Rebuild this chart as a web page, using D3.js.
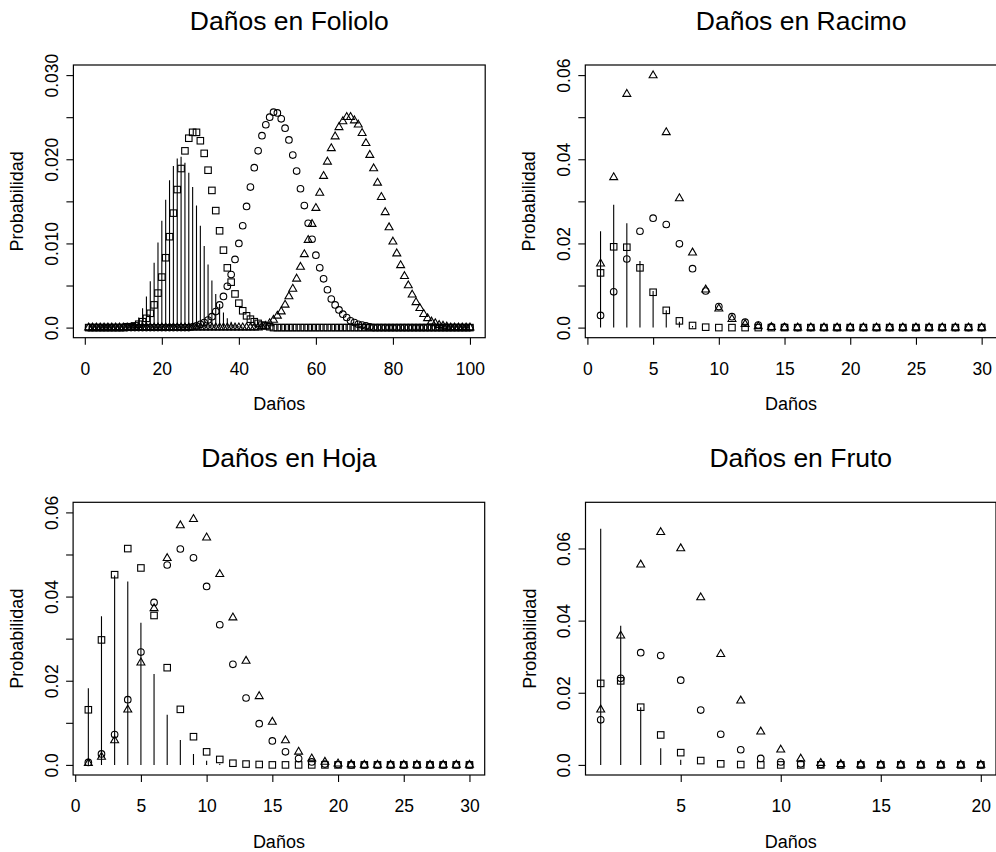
<!DOCTYPE html>
<html>
<head>
<meta charset="utf-8">
<script src="https://cdn.jsdelivr.net/npm/d3@7"></script>
<style>
  body { margin: 0; background: #fff; }
  svg { display: block; }
  text { font-family: "Liberation Sans", Arial, Helvetica, sans-serif; fill: #000; }
</style>
</head>
<body>
<svg id="chart" width="996" height="852"></svg>
<script>
// ---------- Daños en Foliolo (x = 1..100) ----------
const folioloX = [
  1,2,3,4,5,6,7,8,9,10,11,12,13,14,15,16,17,18,19,20,21,22,23,24,25,26,27,28,29,30,
  31,32,33,34,35,36,37,38,39,40,41,42,43,44,45,46,47,48,49,50,51,52,53,54,55,56,57,58,59,60,
  61,62,63,64,65,66,67,68,69,70,71,72,73,74,75,76,77,78,79,80,81,82,83,84,85,86,87,88,89,90,
  91,92,93,94,95,96,97,98,99,100];
const folioloLines = [
  0,0,0,0,0,0,0,0,0,0,
  0,0.0002,0.0005,0.0012,0.0023,0.0037,0.0055,0.0077,0.0101,0.0127,
  0.0152,0.0175,0.0192,0.0201,0.0203,0.0196,0.0184,0.0167,0.0145,0.0121,
  0.0097,0.0075,0.0056,0.0040,0.0028,0.0018,0.0011,0.0007,0.0004,0.0002,
  0.0001,0,0,0,0,0,0,0,0,0,
  0,0,0,0,0,0,0,0,0,0, 0,0,0,0,0,0,0,0,0,0, 0,0,0,0,0,0,0,0,0,0,
  0,0,0,0,0,0,0,0,0,0, 0,0,0,0,0,0,0,0,0,0];
const folioloSquares = [
  0,0,0,0,0,0,0,0,0,0,
  0.0001,0.0001,0.0002,0.0004,0.0007,0.0011,0.0017,0.0027,0.0041,0.0060,
  0.0083,0.0108,0.0136,0.0164,0.0189,0.0210,0.0225,0.0232,0.0232,0.0222,
  0.0207,0.0187,0.0163,0.0139,0.0115,0.0092,0.0071,0.0054,0.0040,0.0029,
  0.0020,0.0014,0.0010,0.0007,0.0005,0.0003,0.0002,0.0001,0,0,
  0,0,0,0,0,0,0,0,0,0, 0,0,0,0,0,0,0,0,0,0, 0,0,0,0,0,0,0,0,0,0,
  0,0,0,0,0,0,0,0,0,0, 0,0,0,0,0,0,0,0,0,0];
const folioloCircles = [
  0,0,0,0,0,0,0,0,0,0, 0,0,0,0,0,0,0,0,0,0,
  0,0,0,0,0,0,0,0.0001,0.0002,0.0004,
  0.0006,0.0009,0.0013,0.0019,0.0027,0.0037,0.0049,0.0063,0.0081,0.0100,
  0.0121,0.0144,0.0167,0.0190,0.0210,0.0228,0.0241,0.0250,0.0256,0.0255,
  0.0248,0.0237,0.0223,0.0205,0.0186,0.0165,0.0145,0.0124,0.0105,0.0086,
  0.0071,0.0058,0.0045,0.0034,0.0027,0.0021,0.0016,0.0012,0.0008,0.0006,
  0.0004,0.0003,0.0002,0.0001,0,0,0,0,0,0,
  0,0,0,0,0,0,0,0,0,0, 0,0,0,0,0,0,0,0,0,0];
const folioloTriangles = [
  0,0,0,0,0,0,0,0,0,0, 0,0,0,0,0,0,0,0,0,0, 0,0,0,0,0,0,0,0,0,0,
  0,0,0,0,0,0,0,0,0,0,
  0,0,0,0,0,0.0001,0.0002,0.0005,0.0009,0.0014,
  0.0019,0.0027,0.0037,0.0046,0.0058,0.0072,0.0087,0.0104,0.0123,0.0142,
  0.0160,0.0180,0.0197,0.0213,0.0227,0.0238,0.0245,0.0250,0.0250,0.0246,
  0.0241,0.0231,0.0219,0.0205,0.0189,0.0172,0.0155,0.0137,0.0119,0.0102,
  0.0088,0.0074,0.0061,0.0050,0.0039,0.0030,0.0023,0.0016,0.0011,0.0007,
  0.0005,0.0003,0.0002,0.0001,0,0,0,0,0,0];
const folioloXTicks = [0, 20, 40, 60, 80, 100];
const folioloYTicks = [0, 0.005, 0.010, 0.015, 0.020, 0.025, 0.030];
const folioloYTickLabels = ["0.0", "", "0.010", "", "0.020", "", "0.030"];

// ---------- Daños en Racimo (x = 1..30) ----------
const racimoX = [1,2,3,4,5,6,7,8,9,10,11,12,13,14,15,16,17,18,19,20,21,22,23,24,25,26,27,28,29,30];
const racimoLines = [0.0229,0.0292,0.0248,0.0158,0.0087,0.0041,0.0014,0.0004,0,0,
  0,0,0,0,0,0,0,0,0,0, 0,0,0,0,0,0,0,0,0,0];
const racimoSquares = [0.0130,0.0192,0.0191,0.0142,0.0084,0.0041,0.0016,0.0005,0.0001,0,
  0,0,0,0,0,0,0,0,0,0, 0,0,0,0,0,0,0,0,0,0];
const racimoCircles = [0.0029,0.0085,0.0163,0.0229,0.0260,0.0245,0.0199,0.0140,0.0087,0.0050,
  0.0026,0.0013,0.0006,0.0002,0.0001,0,0,0,0,0, 0,0,0,0,0,0,0,0,0,0];
const racimoTriangles = [0.0152,0.0357,0.0555,0.0645,0.0599,0.0464,0.0307,0.0178,0.0090,0.0045,
  0.0020,0.0008,0.0003,0.0001,0,0,0,0,0,0, 0,0,0,0,0,0,0,0,0,0];
const racimoXTicks = [0, 5, 10, 15, 20, 25, 30];
const racimoYTicks = [0, 0.01, 0.02, 0.03, 0.04, 0.05, 0.06];
const racimoYTickLabels = ["0.0", "", "0.02", "", "0.04", "", "0.06"];

// ---------- Daños en Hoja (x = 1..30) ----------
const hojaX = [1,2,3,4,5,6,7,8,9,10,11,12,13,14,15,16,17,18,19,20,21,22,23,24,25,26,27,28,29,30];
const hojaLines = [0.0182,0.0353,0.0450,0.0436,0.0338,0.0216,0.0119,0.0059,0.0026,0.0010,
  0.0003,0,0,0,0,0,0,0,0,0, 0,0,0,0,0,0,0,0,0,0];
const hojaSquares = [0.0131,0.0297,0.0452,0.0514,0.0468,0.0355,0.0231,0.0132,0.0067,0.0031,
  0.0013,0.0004,0.0002,0.0001,0,0,0,0,0,0, 0,0,0,0,0,0,0,0,0,0];
const hojaCircles = [0.0006,0.0026,0.0072,0.0155,0.0268,0.0386,0.0475,0.0513,0.0492,0.0424,
  0.0333,0.0239,0.0159,0.0098,0.0057,0.0031,0.0015,0.0007,0.0002,0.0001, 0,0,0,0,0,0,0,0,0,0];
const hojaTriangles = [0.0004,0.0019,0.0058,0.0131,0.0243,0.0372,0.0491,0.0569,0.0584,0.0540,
  0.0453,0.0350,0.0247,0.0163,0.0102,0.0058,0.0031,0.0015,0.0007,0.0003, 0.0001,0,0,0,0,0,0,0,0,0];
const hojaXTicks = [0, 5, 10, 15, 20, 25, 30];
const hojaYTicks = [0, 0.01, 0.02, 0.03, 0.04, 0.05, 0.06];
const hojaYTickLabels = ["0.0", "", "0.02", "", "0.04", "", "0.06"];

// ---------- Daños en Fruto (x = 1..20) ----------
const frutoX = [1,2,3,4,5,6,7,8,9,10,11,12,13,14,15,16,17,18,19,20];
const frutoLines = [0.0655,0.0386,0.0160,0.0046,0.0014,0,0,0,0,0, 0,0,0,0,0,0,0,0,0,0];
const frutoSquares = [0.0226,0.0233,0.0160,0.0083,0.0034,0.0012,0.0003,0.0001,0,0, 0,0,0,0,0,0,0,0,0,0];
const frutoCircles = [0.0125,0.0240,0.0311,0.0303,0.0235,0.0152,0.0085,0.0042,0.0018,0.0008,
  0.0003,0.0001,0,0,0,0,0,0,0,0];
const frutoTriangles = [0.0153,0.0358,0.0555,0.0645,0.0600,0.0464,0.0307,0.0178,0.0092,0.0042,
  0.0017,0.0005,0.0002,0.0001,0,0,0,0,0,0];
const frutoXTicks = [5, 10, 15, 20];
const frutoYTicks = [0, 0.02, 0.04, 0.06];
const frutoYTickLabels = ["0.0", "0.02", "0.04", "0.06"];

const xTitle = "Daños";
const yTitle = "Probabilidad";

// ---------- layout ----------
const panels = [
  { title: "Daños en Foliolo", box: [73.4, 65, 485.2, 337.7], yLim: [0, 0.03],
    x: folioloX, lines: folioloLines, squares: folioloSquares, circles: folioloCircles, triangles: folioloTriangles,
    xTicks: folioloXTicks, yTicks: folioloYTicks, yTickLabels: folioloYTickLabels },
  { title: "Daños en Racimo", box: [585.3, 65, 996.9, 337.7], yLim: [0, 0.06],
    x: racimoX, lines: racimoLines, squares: racimoSquares, circles: racimoCircles, triangles: racimoTriangles,
    xTicks: racimoXTicks, yTicks: racimoYTicks, yTickLabels: racimoYTickLabels },
  { title: "Daños en Hoja", box: [73.1, 502.3, 484.7, 775], yLim: [0, 0.06],
    x: hojaX, lines: hojaLines, squares: hojaSquares, circles: hojaCircles, triangles: hojaTriangles,
    xTicks: hojaXTicks, yTicks: hojaYTicks, yTickLabels: hojaYTickLabels },
  { title: "Daños en Fruto", box: [585.5, 502.3, 996, 775], yLim: [0, 0.07],
    x: frutoX, lines: frutoLines, squares: frutoSquares, circles: frutoCircles, triangles: frutoTriangles,
    xTicks: frutoXTicks, yTicks: frutoYTicks, yTickLabels: frutoYTickLabels }
];

const svg = d3.select("#chart");
const CIRC_R = 3.3;           // circle radius (px)
const SQ_H = 3.25;            // half side of square (px)
const TRI_R = 2.95;           // triangle size unit (px)
const TICK = 7;
const tickFont = 17.5, labFont = 18, titleFont = 26.5;

// R-style 4% extension of the data range
const ext = ([a, b]) => { const d = (b - a) * 0.04; return [a - d, b + d]; };

panels.forEach((p, i) => {
  const [x0, y0, x1, y1] = p.box;
  const x = d3.scaleLinear().domain(ext(d3.extent(p.x))).range([x0, x1]);
  const y = d3.scaleLinear().domain(ext(p.yLim)).range([y1, y0]);
  const g = svg.append("g");

  const clipId = "clip" + i;
  svg.append("clipPath").attr("id", clipId)
    .append("rect").attr("x", x0).attr("y", y0).attr("width", x1 - x0).attr("height", y1 - y0);
  const marks = g.append("g").attr("clip-path", `url(#${clipId})`);

  // vertical probability bars (type "h")
  marks.selectAll("line.h").data(p.x.map((v, k) => [v, p.lines[k]]).filter(d => d[1] > 0))
    .join("line").attr("class", "h")
    .attr("x1", d => x(d[0])).attr("x2", d => x(d[0]))
    .attr("y1", y(0)).attr("y2", d => y(d[1]))
    .attr("stroke", "#000").attr("stroke-width", 1.1);

  const sym = { fill: "none", stroke: "#000", "stroke-width": 1.1 };
  const applySym = sel => { Object.entries(sym).forEach(([k, v]) => sel.attr(k, v)); return sel; };

  // squares
  applySym(marks.selectAll("rect.sq").data(p.x.map((v, k) => [v, p.squares[k]]))
    .join("rect").attr("class", "sq")
    .attr("x", d => x(d[0]) - SQ_H).attr("y", d => y(d[1]) - SQ_H)
    .attr("width", 2 * SQ_H).attr("height", 2 * SQ_H));

  // circles
  applySym(marks.selectAll("circle.ci").data(p.x.map((v, k) => [v, p.circles[k]]))
    .join("circle").attr("class", "ci")
    .attr("cx", d => x(d[0])).attr("cy", d => y(d[1])).attr("r", CIRC_R));

  // triangles
  const tr = 1.555 * TRI_R, tx = 1.347 * TRI_R, ty = 0.778 * TRI_R;
  applySym(marks.selectAll("path.tr").data(p.x.map((v, k) => [v, p.triangles[k]]))
    .join("path").attr("class", "tr")
    .attr("d", d => {
      const cx = x(d[0]), cy = y(d[1]);
      return `M${cx},${cy - tr}L${cx + tx},${cy + ty}L${cx - tx},${cy + ty}Z`;
    }));

  // frame
  g.append("rect").attr("x", x0).attr("y", y0).attr("width", x1 - x0).attr("height", y1 - y0)
    .attr("fill", "none").attr("stroke", "#000").attr("stroke-width", 1.2);

  // x axis
  const xa = g.append("g").attr("transform", `translate(0,${y1})`)
    .call(d3.axisBottom(x).tickValues(p.xTicks).tickSize(TICK).tickSizeOuter(0).tickFormat(d3.format("d")));
  xa.select(".domain").remove();
  xa.selectAll(".tick line").attr("stroke", "#000").attr("stroke-width", 1.1);
  xa.selectAll(".tick text").attr("y", 37).attr("dy", 0)
    .style("font-size", tickFont + "px").attr("fill", "#000");

  // y axis
  const ya = g.append("g").attr("transform", `translate(${x0},0)`)
    .call(d3.axisLeft(y).tickValues(p.yTicks).tickSize(TICK).tickSizeOuter(0)
      .tickFormat((d, k) => p.yTickLabels[k]));
  ya.select(".domain").remove();
  ya.selectAll(".tick line").attr("stroke", "#000").attr("stroke-width", 1.1);
  ya.selectAll(".tick text").attr("x", 0).attr("y", -15.5).attr("dy", 0)
    .attr("transform", "rotate(-90)").attr("text-anchor", "middle")
    .style("font-size", tickFont + "px").attr("fill", "#000");

  const cx = (x0 + x1) / 2, cy = (y0 + y1) / 2;
  // title
  g.append("text").attr("x", cx + 10).attr("y", y0 - 35).attr("text-anchor", "middle")
    .style("font-size", titleFont + "px").text(p.title);
  // axis titles
  g.append("text").attr("x", cx).attr("y", y1 + 72.5).attr("text-anchor", "middle")
    .style("font-size", labFont + "px").text(xTitle);
  g.append("text").attr("transform", `translate(${x0 - 50},${cy}) rotate(-90)`)
    .attr("text-anchor", "middle").style("font-size", labFont + "px").text(yTitle);
});
</script>
</body>
</html>
